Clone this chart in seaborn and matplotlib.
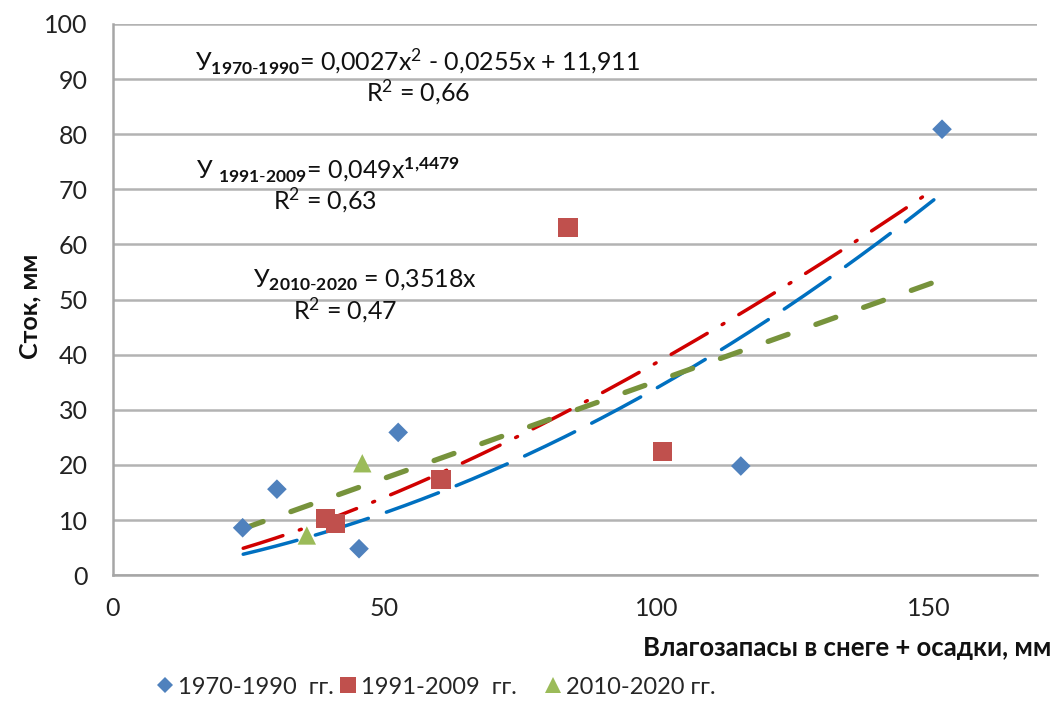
import numpy as np
import pandas as pd
import matplotlib
matplotlib.use("Agg")
import matplotlib.pyplot as plt
import seaborn as sns
from matplotlib.lines import Line2D

# ---- data ----
periods = ["1970-1990", "1991-2009", "2010-2020"]
legend_labels = ["1970-1990  гг.", "1991-2009  гг.", "2010-2020 гг."]

x_1970 = [23.9, 30.2, 45.3, 52.5, 115.5, 152.5]
y_1970 = [8.6, 15.6, 4.8, 25.9, 19.8, 80.9]
x_1991 = [39.1, 41.0, 60.4, 83.7, 101.1]
y_1991 = [10.3, 9.4, 17.4, 63.1, 22.4]
x_2010 = [35.7, 45.9]
y_2010 = [7.2, 20.3]

# trend lines (as drawn in the picture)
trend_x_range = [24.0, 151.0]
poly_1970 = [0.00215, 0.13, -0.56]     # a*x^2 + b*x + c (shape of drawn curve)
power_1991 = [0.049, 1.4479]           # a*x^b
linear_2010 = [0.3518]                 # a*x

eq_texts = [
    r"У$_{\mathbf{1970}\mathbf{\text{-}}\mathbf{1990}}$= 0,0027x$^{2}$ - 0,0255x + 11,911",
    r"У $_{\mathbf{1991}\mathbf{\text{-}}\mathbf{2009}}$= 0,049x$^{\mathbf{1{,}4479}}$",
    r"У$_{\mathbf{2010}\mathbf{\text{-}}\mathbf{2020}}$ = 0,3518x",
]
r2_texts = [r"R$^{2}$ = 0,66", r"R$^{2}$ = 0,63", r"R$^{2}$ = 0,47"]

x_label = "Влагозапасы в снеге + осадки, мм"
y_label = "Сток, мм"
x_ticks = [0, 50, 100, 150]
y_ticks = [0, 10, 20, 30, 40, 50, 60, 70, 80, 90, 100]

# ---- style ----
sns.set_theme(style="white")
FAM = ["Lato", "Open Sans", "DejaVu Sans"]
plt.rcParams["font.family"] = FAM
plt.rcParams["mathtext.fontset"] = "custom"
plt.rcParams["mathtext.rm"] = "Lato"
plt.rcParams["mathtext.bf"] = "Lato:bold"
plt.rcParams["mathtext.it"] = "Lato:italic"

marker_colors = ["#4F81BD", "#C0504D", "#9BBB59"]
markers = {"1970-1990": "D", "1991-2009": "s", "2010-2020": "^"}
sizes = {"1970-1990": 100, "1991-2009": 195, "2010-2020": 175}

fig = plt.figure(figsize=(10.53, 7.04), dpi=100)
ax = fig.add_axes([0.107, 0.183, 0.878, 0.783])

df = pd.DataFrame({
    "x": x_1970 + x_1991 + x_2010,
    "y": y_1970 + y_1991 + y_2010,
    "period": [periods[0]] * len(x_1970) + [periods[1]] * len(x_1991) + [periods[2]] * len(x_2010),
})

# trend lines
xt = np.linspace(trend_x_range[0], trend_x_range[1], 300)
yt1 = np.polyval(poly_1970, xt)
yt2 = power_1991[0] * xt ** power_1991[1]
yt3 = linear_2010[0] * xt
tdf = pd.DataFrame({"x": np.concatenate([xt, xt, xt]),
                    "y": np.concatenate([yt1, yt2, yt3]),
                    "period": np.repeat(periods, len(xt))})

trend_styles = {
    "1970-1990": dict(color="#0070C0", lw=2.5, dashes=(16, 5.5)),
    "1991-2009": dict(color="#D00000", lw=2.5, dashes=(12, 5, 0.6, 5)),
    "2010-2020": dict(color="#77933C", lw=3.8, dashes=(4.0, 5.6)),
}
for p in periods:
    st = trend_styles[p]
    sub = tdf[tdf["period"] == p]
    sns.lineplot(data=sub, x="x", y="y", ax=ax, color=st["color"], lw=st["lw"],
                 legend=False, zorder=3)
    ln = ax.lines[-1]
    ln.set_dashes(st["dashes"])
    ln.set_dash_capstyle("round")

for p, c in zip(periods, marker_colors):
    sub = df[df["period"] == p]
    sns.scatterplot(data=sub, x="x", y="y", ax=ax, marker=markers[p], s=sizes[p],
                    color=c, edgecolor="none", legend=False, zorder=4)

ax.set_xlim(0, 170)
ax.set_ylim(0, 100)
ax.set_xticks(x_ticks)
ax.set_yticks(y_ticks)
ax.tick_params(axis="both", labelsize=18, labelcolor="#222222", length=6, width=1.2,
               direction="out", color="#A6A6A6")
ax.tick_params(axis="y", pad=12)
ax.tick_params(axis="x", pad=10)
ax.yaxis.grid(True, color="#B3B3B3", lw=1.8)
ax.xaxis.grid(False)
ax.set_axisbelow(True)
for s in ["top", "right"]:
    ax.spines[s].set_visible(False)
for s in ["left", "bottom"]:
    ax.spines[s].set_color("#A6A6A6")
    ax.spines[s].set_linewidth(1.8)
ax.set_xlabel("")
ax.set_ylabel("")

fig.text(0.028, 0.565, y_label, rotation=90, fontsize=18, fontweight="bold",
         ha="center", va="center", color="#111111")
fig.text(0.998, 0.079, x_label, fontsize=18.5, fontweight="bold", ha="right",
         va="center", color="#111111")

# equations
eq_pos = [(418, 62), (328, 170), (365, 280)]
r2_pos = [(418, 92), (325, 200), (345, 310)]
for t, (px, py) in zip(eq_texts, eq_pos):
    fig.text(px / 1053, 1 - py / 704, t, fontsize=18, ha="center", va="center",
             color="#111111")
for t, (px, py) in zip(r2_texts, r2_pos):
    fig.text(px / 1053, 1 - py / 704, t, fontsize=18, ha="center", va="center",
             color="#111111")

# legend: three entries placed along the bottom
leg_x = [156, 339, 544]
for p, c, ms, lab, lx in zip(periods, marker_colors, [8, 11, 11], legend_labels, leg_x):
    h = Line2D([], [], ls="none", marker=markers[p], color=c, markersize=ms,
               markeredgewidth=0)
    fig.legend([h], [lab], loc="center left", bbox_to_anchor=(lx / 1053, 1 - 687 / 704),
               frameon=False, fontsize=17, handletextpad=0.15, handlelength=0.8,
               borderpad=0, borderaxespad=0)

fig.savefig("out.png", dpi=100)
